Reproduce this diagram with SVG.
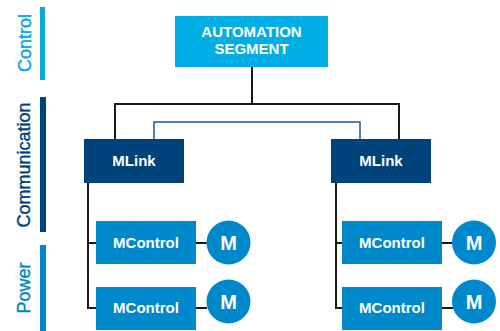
<svg xmlns="http://www.w3.org/2000/svg" width="500" height="331" viewBox="0 0 500 331">
<style>
.lbl{font-family:"Liberation Sans",Arial,sans-serif;font-size:18px;stroke-width:0.4}
.t{font-family:"Liberation Sans",Arial,sans-serif;font-weight:bold;fill:#fff;text-anchor:middle}
.k{fill:none;stroke:#1a1a1a;stroke-width:2}
.mc{fill:#0088cc}
</style>
<rect width="500" height="331" fill="#fff"/>
<g id="layer-labels">
<rect x="40" y="7" width="5" height="73" fill="#0aa6e0"/>
<text class="lbl" transform="translate(30.5,43) rotate(-90)" text-anchor="middle" fill="#0aa6e0" stroke="#0aa6e0">Control</text>
<rect x="40" y="97" width="6" height="135" fill="#00427a"/>
<text class="lbl" transform="translate(29.5,165) rotate(-90)" text-anchor="middle" fill="#00427a" stroke="#00427a">Communication</text>
<rect x="40" y="245" width="6" height="86" fill="#0088cc"/>
<text class="lbl" transform="translate(30,288) rotate(-90)" text-anchor="middle" fill="#0088cc" stroke="#0088cc">Power</text>
</g>
<g id="connectors">
<path class="k" d="M252 67V104M115 139V104H399V139"/>
<path d="M154 139V122H360V139" fill="none" stroke="#1e5a8c" stroke-width="1.5"/>
<path class="k" d="M88 183V308H96M88 243H96M196 243H207M196 308H207"/>
<path class="k" d="M336 183V308H342M336 243H342M442 243H453M442 308H453"/>
</g>
<g id="automation-segment">
<rect x="175" y="16" width="153" height="51" fill="#00aee6"/>
<text class="t" x="251.5" y="36.5" font-size="15">AUTOMATION</text>
<text class="t" x="251.5" y="54" font-size="15">SEGMENT</text>
</g>
<g id="mlink-left">
<rect x="84" y="139" width="100" height="44" fill="#00427a"/>
<text class="t" x="134" y="166" font-size="15">MLink</text>
</g>
<g id="mlink-right">
<rect x="331" y="139" width="100" height="44" fill="#00427a"/>
<text class="t" x="381" y="166" font-size="15">MLink</text>
</g>
<g id="mcontrol-l1">
<rect class="mc" x="96" y="221" width="100" height="43"/>
<text class="t" x="146" y="248" font-size="15">MControl</text>
</g>
<g id="mcontrol-l2">
<rect class="mc" x="96" y="287" width="100" height="43"/>
<text class="t" x="146" y="313" font-size="15">MControl</text>
</g>
<g id="mcontrol-r1">
<rect class="mc" x="342" y="221" width="100" height="43"/>
<text class="t" x="392" y="248" font-size="15">MControl</text>
</g>
<g id="mcontrol-r2">
<rect class="mc" x="342" y="287" width="100" height="43"/>
<text class="t" x="392" y="313" font-size="15">MControl</text>
</g>
<g id="motor-l1">
<circle class="mc" cx="228.5" cy="242.5" r="22"/>
<text class="t" x="228.5" y="250" font-size="20">M</text>
</g>
<g id="motor-l2">
<circle class="mc" cx="228.5" cy="301.5" r="22"/>
<text class="t" x="228.5" y="308.5" font-size="20">M</text>
</g>
<g id="motor-r1">
<circle class="mc" cx="474" cy="242.5" r="22"/>
<text class="t" x="474" y="250" font-size="20">M</text>
</g>
<g id="motor-r2">
<circle class="mc" cx="474" cy="301.5" r="22"/>
<text class="t" x="474" y="308.5" font-size="20">M</text>
</g>
</svg>
